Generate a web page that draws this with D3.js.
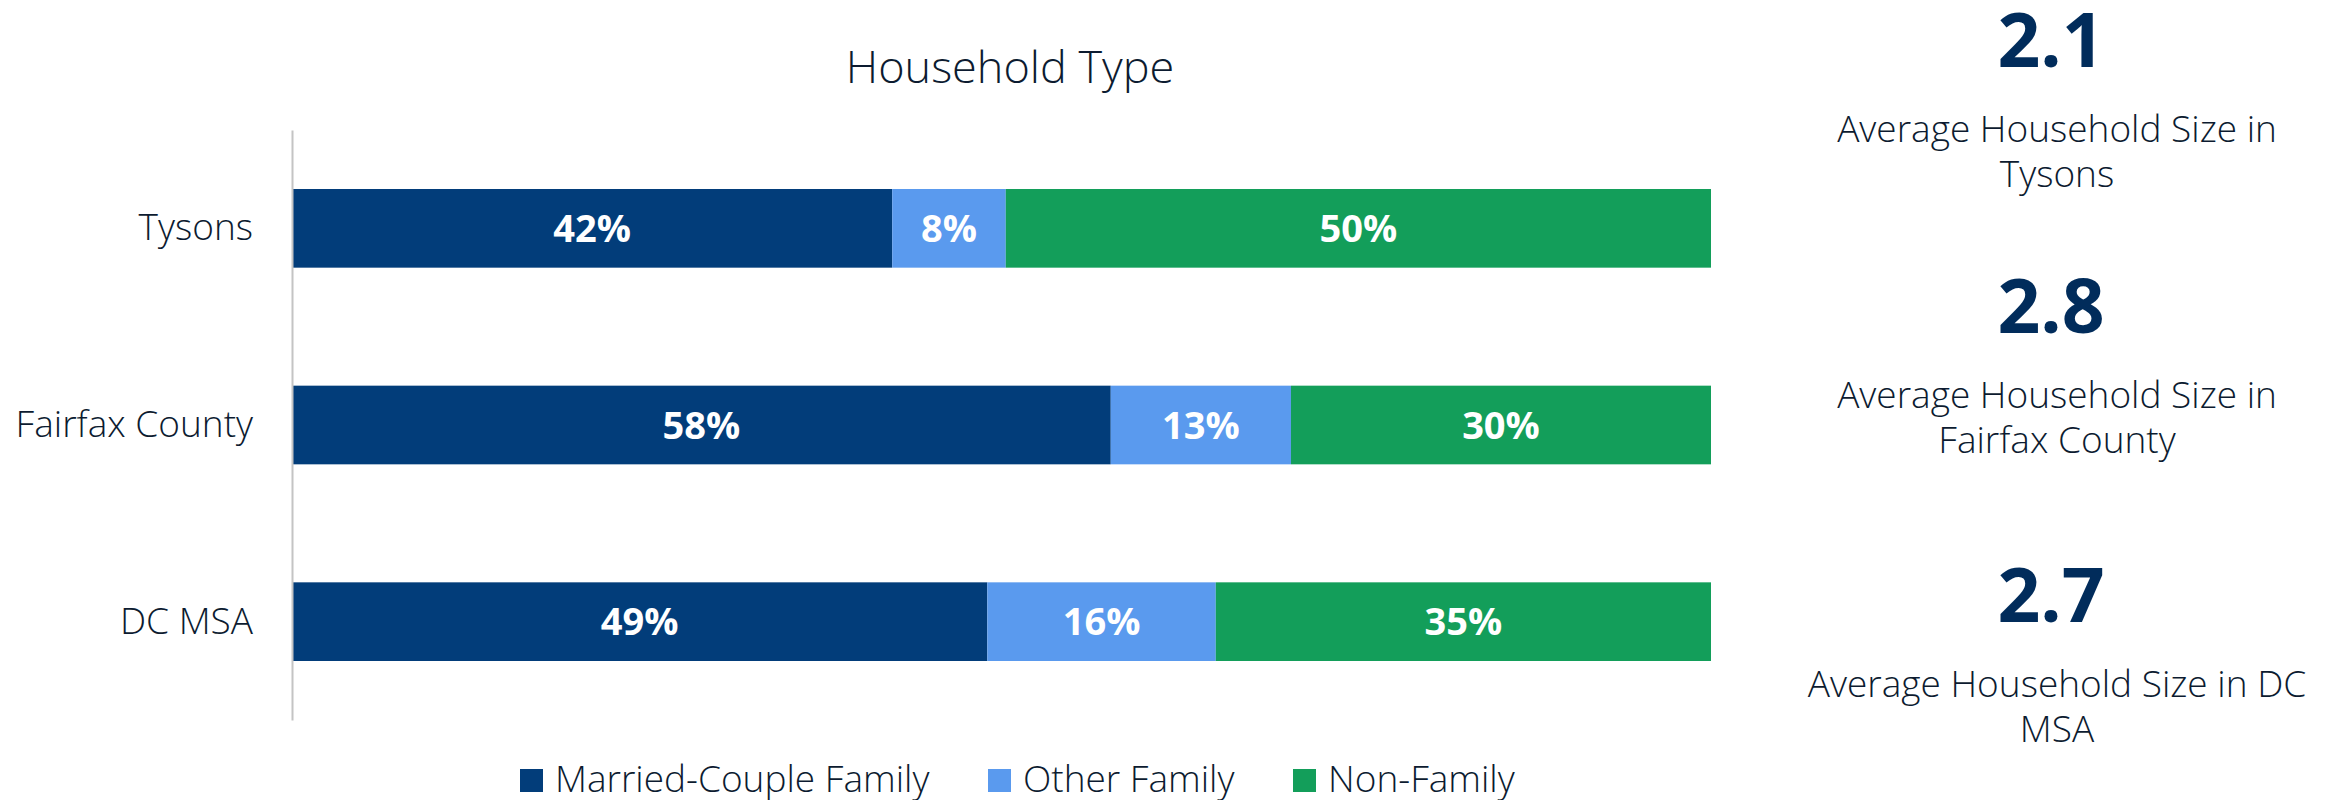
<!DOCTYPE html>
<html>
<head>
<meta charset="utf-8">
<script src="https://cdn.jsdelivr.net/npm/d3@7"></script>
<style>
  body { margin: 0; background: #fff; }
  svg text { font-family: "Open Sans", sans-serif; }
</style>
</head>
<body>
<div id="chart"></div>
<script>
// data
var places = ["Tysons", "Fairfax County", "DC MSA"];
var seriesNames = ["Married-Couple Family", "Other Family", "Non-Family"];
var married = [42.3, 57.7, 49.0];
var otherFamily = [8.0, 12.7, 16.1];
var nonFamily = [49.7, 29.6, 34.9];
var shownLabels = [["42%", "8%", "50%"], ["58%", "13%", "30%"], ["49%", "16%", "35%"]];
var avgSize = ["2.1", "2.8", "2.7"];
var avgSizeText = [["Average Household Size in", "Tysons"],
                   ["Average Household Size in", "Fairfax County"],
                   ["Average Household Size in DC", "MSA"]];

var colors = ["#023d7a", "#5a9aee", "#139e5a"];
var textColor = "#0c1b30";

var W = 2338, H = 800;

var svg = d3.select("#chart").append("svg")
  .attr("width", W)
  .attr("height", H);

// scales
var x = d3.scaleLinear()
  .domain([0, 100])
  .range([292, 1711]);

var y = d3.scaleBand()
  .domain(places)
  .range([130, 720])
  .paddingInner(0.6)
  .paddingOuter(0.3);

// stack table
var table = places.map(function(p, i) {
  return { place: p, married: married[i], other: otherFamily[i], non: nonFamily[i], idx: i };
});
var keys = ["married", "other", "non"];
var stacked = d3.stack().keys(keys)(table);

// title
svg.append("text")
  .attr("x", 1010)
  .attr("y", 83)
  .attr("text-anchor", "middle")
  .attr("font-size", 45)
  .attr("font-weight", 300)
  .attr("fill", textColor)
  .text("Household Type");

// bars
var layer = svg.selectAll(".layer")
  .data(stacked)
  .enter().append("g")
  .attr("class", "layer")
  .attr("fill", function(d, i) { return colors[i]; });

layer.selectAll("rect")
  .data(function(d) { return d; })
  .enter().append("rect")
  .attr("x", function(d) { return x(d[0]); })
  .attr("width", function(d) { return x(d[1]) - x(d[0]); })
  .attr("y", function(d) { return y(d.data.place); })
  .attr("height", y.bandwidth());

// segment labels
layer.each(function(s, si) {
  d3.select(this).selectAll("text")
    .data(s)
    .enter().append("text")
    .attr("x", function(d) { return (x(d[0]) + x(d[1])) / 2; })
    .attr("y", function(d) { return y(d.data.place) + y.bandwidth() / 2; })
    .attr("dy", "0.36em")
    .attr("text-anchor", "middle")
    .attr("font-size", 38)
    .attr("font-weight", 700)
    .attr("fill", "#fff")
    .text(function(d) { return shownLabels[d.data.idx][si]; });
});

// y axis
var yAxis = svg.append("g")
  .attr("transform", "translate(292,0)")
  .call(d3.axisLeft(y).tickSize(0).tickPadding(39));

yAxis.select(".domain")
  .attr("stroke", "#c4c4c4")
  .attr("stroke-width", 2);

yAxis.selectAll("text")
  .attr("font-size", 37)
  .attr("font-weight", 300)
  .attr("font-family", "Open Sans, sans-serif")
  .attr("fill", textColor);

// legend
var legendX = [520, 988, 1293];
var legend = svg.selectAll(".legend")
  .data(seriesNames)
  .enter().append("g")
  .attr("class", "legend")
  .attr("transform", function(d, i) { return "translate(" + legendX[i] + ",769)"; });

legend.append("rect")
  .attr("width", 23)
  .attr("height", 23)
  .attr("fill", function(d, i) { return colors[i]; });

legend.append("text")
  .attr("x", 35)
  .attr("y", 23)
  .attr("font-size", 37)
  .attr("font-weight", 300)
  .attr("fill", textColor)
  .text(function(d) { return d; });

// right side: average household size
var blockTop = [67, 333, 622];
var side = svg.selectAll(".avg")
  .data(avgSize)
  .enter().append("g")
  .attr("class", "avg")
  .attr("transform", function(d, i) { return "translate(2057," + blockTop[i] + ")"; });

side.append("text")
  .attr("x", -6)
  .attr("text-anchor", "middle")
  .attr("font-size", 75)
  .attr("font-weight", 700)
  .attr("fill", "#012c5b")
  .text(function(d) { return d; });

side.each(function(d, i) {
  d3.select(this).selectAll(".lbl")
    .data(avgSizeText[i])
    .enter().append("text")
    .attr("class", "lbl")
    .attr("text-anchor", "middle")
    .attr("y", function(t, j) { return 75 + j * 45; })
    .attr("font-size", 37)
    .attr("font-weight", 300)
    .attr("fill", textColor)
    .text(function(t) { return t; });
});
</script>
</body>
</html>
